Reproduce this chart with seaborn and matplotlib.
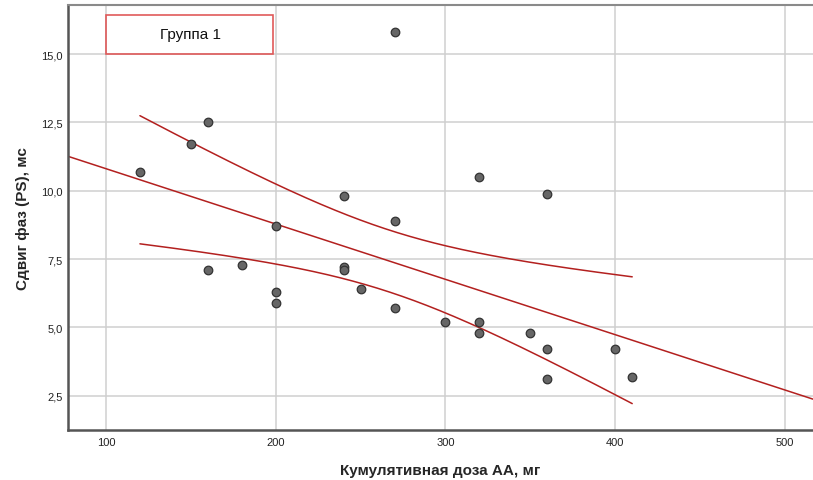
import numpy as np
import pandas as pd
import seaborn as sns
import matplotlib
matplotlib.use("Agg")
import matplotlib.pyplot as plt
from matplotlib.patches import Rectangle
from matplotlib.ticker import FixedLocator, FuncFormatter

# Cumulative dose (mg) and phase shift (ms), group 1
dose = [120, 150, 160, 160, 180, 200, 200, 200, 240, 240, 240, 250,
        270, 270, 270, 300, 320, 320, 320, 350, 360, 360, 360, 400, 410]
shift = [10.7, 11.7, 12.5, 7.1, 7.3, 8.7, 6.3, 5.9, 9.8, 7.2, 7.1, 6.4,
         15.8, 8.9, 5.7, 5.2, 10.5, 5.2, 4.8, 4.8, 9.9, 4.2, 3.1, 4.2, 3.2]

x_ticks = [100, 200, 300, 400, 500]
y_ticks = [2.5, 5.0, 7.5, 10.0, 12.5, 15.0]
group_label = "Группа 1"
x_label = "Кумулятивная доза АА, мг"
y_label = "Сдвиг фаз (PS), мс"

df = pd.DataFrame({"dose": dose, "shift": shift})

sns.set_style("white")
plt.rcParams["font.family"] = ["Liberation Sans", "DejaVu Sans"]

fig = plt.figure(figsize=(8.13, 4.81), dpi=100)
ax = fig.add_axes([0.084, 0.103, 0.916, 0.884])

xlim = (77.8, 516.5)
ylim = (1.23, 16.79)

# Ordinary least squares fit with 95% confidence band for the mean
x = np.asarray(dose, float)
y = np.asarray(shift, float)
n = len(x)
b1, b0 = np.polyfit(x, y, 1)
resid = y - (b0 + b1 * x)
s = np.sqrt(np.sum(resid ** 2) / (n - 2))
sxx = np.sum((x - x.mean()) ** 2)
t95 = 2.0687  # t(0.975, df=23)

grid_full = np.linspace(xlim[0], xlim[1], 200)
grid_data = np.linspace(x.min(), x.max(), 200)
se = s * np.sqrt(1.0 / n + (grid_data - x.mean()) ** 2 / sxx)
fit_data = b0 + b1 * grid_data

line_color = "#b3201f"
sns.lineplot(x=grid_full, y=b0 + b1 * grid_full, ax=ax, color=line_color, lw=1.1)
sns.lineplot(x=grid_data, y=fit_data + t95 * se, ax=ax, color=line_color, lw=1.1)
sns.lineplot(x=grid_data, y=fit_data - t95 * se, ax=ax, color=line_color, lw=1.1)

sns.scatterplot(data=df, x="dose", y="shift", ax=ax, s=38, color="#666666",
                edgecolor="#333333", linewidth=0.9, zorder=5)

ax.set_xlim(*xlim)
ax.set_ylim(*ylim)
ax.xaxis.set_major_locator(FixedLocator(x_ticks))
ax.yaxis.set_major_locator(FixedLocator(y_ticks))
ax.yaxis.set_major_formatter(FuncFormatter(lambda v, p: f"{v:.1f}".replace(".", ",")))
ax.xaxis.set_major_formatter(FuncFormatter(lambda v, p: f"{v:.0f}"))
ax.tick_params(axis="both", labelsize=8, colors="#222222", length=0)
ax.tick_params(axis="x", pad=5)
ax.tick_params(axis="y", pad=4)
ax.grid(True, color="#cfcfcf", lw=1.1)
ax.set_axisbelow(True)

for side in ["left", "bottom"]:
    ax.spines[side].set_color("#555555")
    ax.spines[side].set_linewidth(1.8)
ax.spines["top"].set_color("#8a8a8a")
ax.spines["top"].set_linewidth(1.5)
ax.spines["right"].set_visible(False)

ax.set_xlabel(x_label, fontsize=11, fontweight="bold", labelpad=11)
ax.set_ylabel(y_label, fontsize=11, fontweight="bold", labelpad=8)

# Group caption box
ax.add_patch(Rectangle((100, 15.0), 98.5, 1.43, fill=False,
                       edgecolor="#e05a5a", lw=1.2, zorder=6))
ax.text(149.5, 15.72, group_label, ha="center", va="center",
        fontsize=11, color="#111111", zorder=7)

fig.savefig("out.png", dpi=100)
